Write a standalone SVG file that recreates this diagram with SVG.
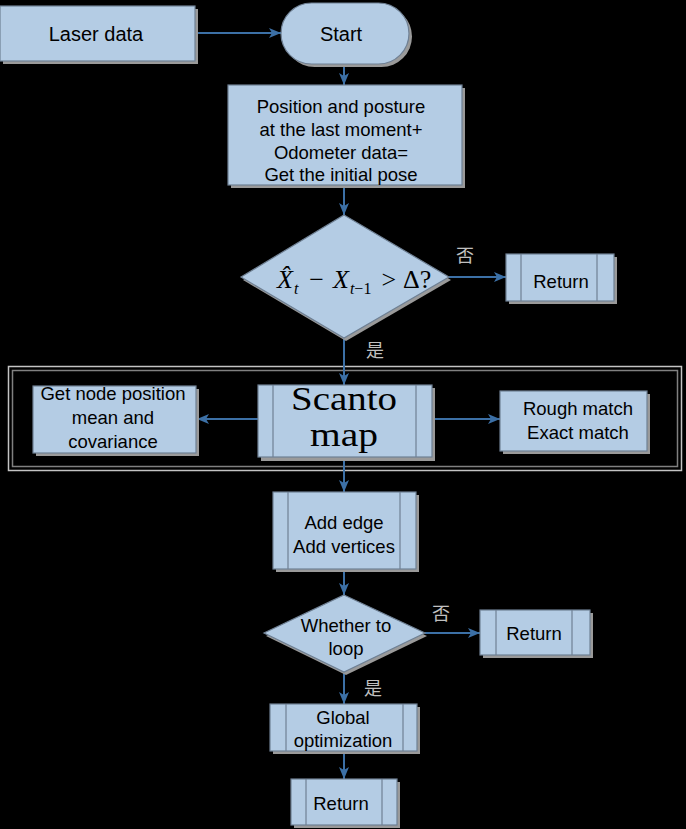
<svg xmlns="http://www.w3.org/2000/svg" width="686" height="829" viewBox="0 0 686 829">
<defs>
<marker id="ah" viewBox="0 0 12 10" refX="12" refY="5" markerWidth="12" markerHeight="10" markerUnits="userSpaceOnUse" orient="auto">
<path d="M0,0 L12,5 L0,10 L3,5 z" fill="#3c70a6"/>
</marker>
<style>
.sh{fill:#9a9a9a;}
.bx{fill:#b4cce4;stroke:#6f8094;stroke-width:1.2;}
.in{stroke:#6f8094;stroke-width:1.2;fill:none;}
.t{font-family:"Liberation Sans",Arial,sans-serif;font-size:18.5px;fill:#000;text-anchor:middle;}
.t20{font-family:"Liberation Sans",Arial,sans-serif;font-size:20px;fill:#000;text-anchor:middle;}
.sf{font-family:"Liberation Serif","Times New Roman",serif;fill:#000;}
.cn{fill:none;stroke:#3c70a6;stroke-width:2;}
.lb{font-family:"Noto Sans CJK SC",sans-serif;font-size:18px;fill:#c0c0c0;}
</style>
</defs>
<rect width="686" height="829" fill="#000"/>

<g id="container">
<rect x="8.5" y="366.5" width="673" height="104" fill="none" stroke="#c4c4c4" stroke-width="1.5"/>
<rect x="12.5" y="370.5" width="665" height="96" fill="none" stroke="#808080" stroke-width="1.5"/>
</g>

<g id="connectors">
<line class="cn" x1="195" y1="33" x2="281" y2="33" marker-end="url(#ah)"/>
<line class="cn" x1="344" y1="64" x2="344" y2="85" marker-end="url(#ah)"/>
<line class="cn" x1="344" y1="185" x2="344" y2="215" marker-end="url(#ah)"/>
<line class="cn" x1="449" y1="277" x2="506" y2="277" marker-end="url(#ah)"/>
<line class="cn" x1="344" y1="338" x2="344" y2="385" marker-end="url(#ah)"/>
<line class="cn" x1="258" y1="419" x2="197" y2="419" marker-end="url(#ah)"/>
<line class="cn" x1="432" y1="419" x2="500" y2="419" marker-end="url(#ah)"/>
<line class="cn" x1="344" y1="457" x2="344" y2="492" marker-end="url(#ah)"/>
<line class="cn" x1="344" y1="569" x2="344" y2="595" marker-end="url(#ah)"/>
<line class="cn" x1="425" y1="633" x2="480" y2="633" marker-end="url(#ah)"/>
<line class="cn" x1="344" y1="672" x2="344" y2="704" marker-end="url(#ah)"/>
<line class="cn" x1="344" y1="751" x2="344" y2="779" marker-end="url(#ah)"/>
<text class="lb" x="456" y="262">否</text>
<text class="lb" x="366" y="357">是</text>
<text class="lb" x="432" y="620">否</text>
<text class="lb" x="364" y="695">是</text>
</g>

<g id="laser">
<rect class="sh" x="3" y="9" width="195" height="55"/>
<rect class="bx" x="0" y="6" width="195" height="55"/>
<text class="t20" x="96" y="41">Laser data</text>
</g>

<g id="start">
<rect class="sh" x="284" y="6" width="128" height="61" rx="30.5"/>
<rect class="bx" x="281" y="3" width="128" height="61" rx="30.5"/>
<text class="t20" x="341" y="41">Start</text>
</g>

<g id="initpose">
<rect class="sh" x="231" y="88" width="234" height="100"/>
<rect class="bx" x="228" y="85" width="234" height="100"/>
<text class="t" x="341" y="113">Position and posture</text>
<text class="t" x="341" y="136">at the last moment+</text>
<text class="t" x="341" y="159">Odometer data=</text>
<text class="t" x="341" y="181">Get the initial pose</text>
</g>

<g id="decision1">
<polygon class="sh" points="346,218 451,280 346,341 243,280"/>
<polygon class="bx" points="344,215 449,277 344,338 241,277"/>
<text class="sf" font-size="26" x="277" y="288"><tspan font-style="italic">X&#770;</tspan><tspan font-size="16" font-style="italic" dx="1" dy="6">t</tspan><tspan dx="11" dy="-6">−</tspan><tspan dx="9" font-style="italic">X</tspan><tspan font-size="16" font-style="italic" dx="1" dy="6">t</tspan><tspan font-size="16" dy="0">−1</tspan><tspan dx="10" dy="-6">&gt;</tspan><tspan dx="7">Δ?</tspan></text>
</g>

<g id="return1">
<rect class="sh" x="509" y="257" width="108" height="47"/>
<rect class="bx" x="506" y="254" width="108" height="47"/>
<line class="in" x1="521" y1="254" x2="521" y2="301"/>
<line class="in" x1="597" y1="254" x2="597" y2="301"/>
<text class="t" x="561" y="288">Return</text>
</g>

<g id="nodepos">
<rect class="sh" x="36" y="389" width="163" height="67"/>
<rect class="bx" x="33" y="386" width="163" height="67"/>
<text class="t" x="113" y="400">Get node position</text>
<text class="t" x="113" y="424">mean and</text>
<text class="t" x="113" y="448">covariance</text>
</g>

<g id="scanto">
<rect class="sh" x="261" y="388" width="174" height="73"/>
<rect class="bx" x="258" y="385" width="174" height="72"/>
<line class="in" x1="273" y1="385" x2="273" y2="457"/>
<line class="in" x1="416" y1="385" x2="416" y2="457"/>
<text class="sf" font-size="33" x="291" y="410" textLength="106" lengthAdjust="spacingAndGlyphs">Scanto</text>
<text class="sf" font-size="33" x="310" y="446" textLength="68" lengthAdjust="spacingAndGlyphs">map</text>
</g>

<g id="match">
<rect class="sh" x="503" y="394" width="147" height="60"/>
<rect class="bx" x="500" y="391" width="147" height="60"/>
<text class="t" x="578" y="415">Rough match</text>
<text class="t" x="578" y="439">Exact match</text>
</g>

<g id="addedge">
<rect class="sh" x="276" y="495" width="143" height="77"/>
<rect class="bx" x="273" y="492" width="143" height="77"/>
<line class="in" x1="288" y1="492" x2="288" y2="569"/>
<line class="in" x1="400" y1="492" x2="400" y2="569"/>
<text class="t" x="344" y="529">Add edge</text>
<text class="t" x="344" y="553">Add vertices</text>
</g>

<g id="decision2">
<polygon class="sh" points="346,598 427,636 346,675 266,636"/>
<polygon class="bx" points="344,595 425,633 344,672 264,633"/>
<text class="t" x="346" y="632">Whether to</text>
<text class="t" x="346" y="655">loop</text>
</g>

<g id="return2">
<rect class="sh" x="483" y="613" width="110" height="45"/>
<rect class="bx" x="480" y="610" width="110" height="45"/>
<line class="in" x1="496" y1="610" x2="496" y2="655"/>
<line class="in" x1="572" y1="610" x2="572" y2="655"/>
<text class="t" x="534" y="640">Return</text>
</g>

<g id="globalopt">
<rect class="sh" x="273" y="707" width="147" height="47"/>
<rect class="bx" x="270" y="704" width="147" height="47"/>
<line class="in" x1="286" y1="704" x2="286" y2="751"/>
<line class="in" x1="403" y1="704" x2="403" y2="751"/>
<text class="t" x="343" y="724">Global</text>
<text class="t" x="343" y="747">optimization</text>
</g>

<g id="return3">
<rect class="sh" x="294" y="782" width="106" height="46"/>
<rect class="bx" x="291" y="779" width="106" height="46"/>
<line class="in" x1="306" y1="779" x2="306" y2="825"/>
<line class="in" x1="382" y1="779" x2="382" y2="825"/>
<text class="t" x="341" y="810">Return</text>
</g>
</svg>
